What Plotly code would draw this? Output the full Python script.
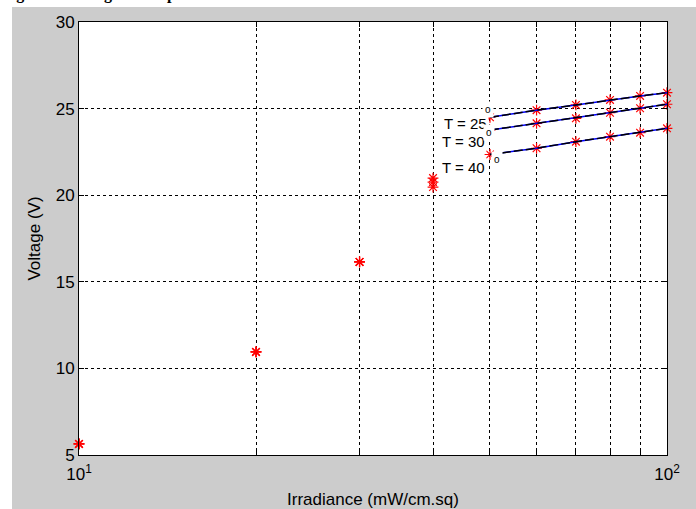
import plotly.graph_objects as go

# ---- data ----
irradiance = [10, 20, 30, 40, 50, 60, 70, 80, 90, 100]
v_t25 = [5.64, 10.95, 16.15, 20.99, 24.50, 24.91, 25.21, 25.50, 25.73, 25.92]
v_t30 = [5.64, 10.95, 16.15, 20.76, 23.76, 24.15, 24.44, 24.76, 25.02, 25.25]
v_t40 = [5.64, 10.95, 16.15, 20.47, 22.35, 22.71, 23.09, 23.38, 23.61, 23.86]
fit_start = 4  # lines drawn from 50 mW/cm.sq onward
labels = ["T = 25", "T = 30", "T = 40"]
x_tickvals = [10, 20, 30, 40, 50, 60, 70, 80, 90, 100]
x_ticktext = ["10<sup>1</sup>", "", "", "", "", "", "", "", "", "10<sup>2</sup>"]
y_tickvals = [5, 10, 15, 20, 25, 30]

W, H = 696, 509
L, R, T, B = 79, 667, 22, 455

def xp(px):
    return (px - L) / (R - L)

def yp(py):
    return (B - py) / (B - T)

FONT = "Liberation Sans, Arial, sans-serif"

fig = go.Figure()

# markers first (lines are drawn over them)
for v in (v_t25, v_t30, v_t40):
    fig.add_trace(go.Scatter(
        x=irradiance, y=v, mode="markers", cliponaxis=False,
        marker=dict(symbol="asterisk-open", size=9, color="red",
                    line=dict(color="red", width=1.2)),
        showlegend=False, hoverinfo="skip"))

for v in (v_t25, v_t30, v_t40):
    fig.add_trace(go.Scatter(
        x=irradiance[fit_start:], y=v[fit_start:], mode="lines",
        line=dict(color="blue", width=1.5),
        showlegend=False, hoverinfo="skip"))
    fig.add_trace(go.Scatter(
        x=irradiance[fit_start:], y=v[fit_start:], mode="lines",
        line=dict(color="black", width=1.5, dash="9px,3px"),
        showlegend=False, hoverinfo="skip"))

# white strips outside the grey figure area
shapes = [
    dict(type="rect", xref="paper", yref="paper",
         x0=xp(0), x1=xp(W), y0=yp(7), y1=yp(0),
         fillcolor="white", line=dict(width=0), layer="below"),
    dict(type="rect", xref="paper", yref="paper",
         x0=xp(0), x1=xp(12), y0=yp(H), y1=yp(0),
         fillcolor="white", line=dict(width=0), layer="below"),
]

annotations = []
# curve labels with white background
label_pos = [(489, 123), (487, 141.5), (487, 167)]
deg_pos = [(488, 109), (489, 132), (497, 160)]
for lab, (lx, ly), (dx, dy) in zip(labels, label_pos, deg_pos):
    annotations.append(dict(
        x=xp(lx), y=yp(ly), xref="paper", yref="paper",
        xanchor="right", yanchor="middle", text=lab, showarrow=False,
        bgcolor="white", borderpad=1,
        font=dict(family=FONT, size=15, color="black")))
    annotations.append(dict(
        x=xp(dx), y=yp(dy), xref="paper", yref="paper",
        xanchor="center", yanchor="middle", text="o", showarrow=False,
        bgcolor="white", borderpad=2,
        font=dict(family=FONT, size=10, color="black")))

# clipped caption from the surrounding document (only its lower edge shows)
annotations.append(dict(
    x=xp(0), y=yp(-6), xref="paper", yref="paper",
    xanchor="left", yanchor="middle",
    text="<b>Figure 6: Voltage vs temperature under different irradiance.</b>",
    showarrow=False,
    font=dict(family="Liberation Serif, Times New Roman, serif", size=16, color="black")))

fig.update_layout(
    width=W, height=H,
    margin=dict(l=L, r=W - R, t=T, b=H - B, autoexpand=False),
    paper_bgcolor="#cccccc",
    plot_bgcolor="white",
    font=dict(family=FONT, size=17, color="black"),
    shapes=shapes,
    annotations=annotations,
    xaxis=dict(
        type="log", range=[1, 2], automargin=False,
        tickvals=x_tickvals, ticktext=x_ticktext,
        ticks="inside", ticklen=5, tickcolor="black",
        showline=True, linecolor="black", linewidth=1, mirror="ticks",
        showgrid=True, gridcolor="black", gridwidth=1, griddash="3px,3px",
        zeroline=False, ticklabelstandoff=4,
        tickfont=dict(family=FONT, size=17, color="black"),
        title=dict(text="Irradiance (mW/cm.sq)", standoff=10,
                   font=dict(family=FONT, size=17, color="black")),
    ),
    yaxis=dict(
        range=[5, 30], automargin=False,
        tickvals=y_tickvals,
        ticks="inside", ticklen=5, tickcolor="black",
        showline=True, linecolor="black", linewidth=1, mirror="ticks",
        showgrid=True, gridcolor="black", gridwidth=1, griddash="3px,3px",
        zeroline=False,
        tickfont=dict(family=FONT, size=17, color="black"),
        title=dict(text="Voltage (V)", standoff=10,
                   font=dict(family=FONT, size=17, color="black")),
    ),
)

fig.write_html("out.html", config={"displayModeBar": False},
               post_script="document.body.style.margin='0';document.body.style.padding='0';")
